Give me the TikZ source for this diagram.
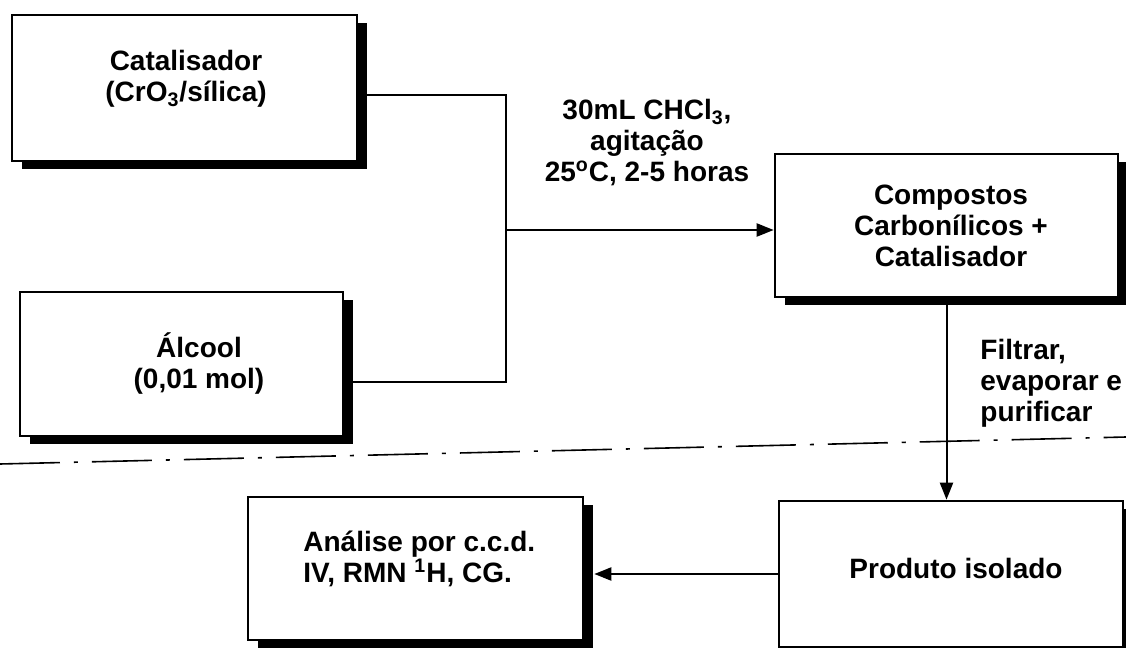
\documentclass[tikz,border=0pt]{standalone}
\usepackage{fontspec}
\setmainfont{Liberation Sans}
\usetikzlibrary{arrows.meta,shadows}
\tikzset{flowsec/.style={x=0.5pt,y=-0.5pt,font=\bfseries\fontsize{14}{15.5}\selectfont},
  flowbox/.style={draw,line width=1.3pt,fill=white,inner sep=0pt,
    drop shadow={shadow xshift=5pt,shadow yshift=-4pt,fill=black,opacity=1}},
  flowtxt/.style={align=center,inner sep=1pt},
  flowline/.style={line width=1pt},
  flowarr/.style={line width=1pt,-{Triangle[length=8.5pt,width=6.5pt]}}}

\begin{document}
\begin{tikzpicture}[flowsec]
    \useasboundingbox (0,0) rectangle (1126,648);
    \node[flowbox,minimum width=172.5pt,minimum height=73pt] (cat)  at (184.5,88)  {};
    \node[flowbox,minimum width=161.5pt,minimum height=72pt] (alc)  at (181.5,364) {};
    \node[flowbox,minimum width=171.5pt,minimum height=71.5pt] (comp) at (946.5,225.5) {};
    \node[flowbox,minimum width=172pt,minimum height=73pt] (prod) at (951,574) {};
    \node[flowbox,minimum width=167.5pt,minimum height=71.5pt] (anal) at (415.5,568.5) {};
    \node[flowtxt] (catT)  at (186,79)  {Catalisador\\(CrO\textsubscript{3}/sílica)};
    \node[flowtxt] (alcT)  at (199,363) {Álcool\\(0,01 mol)};
    \node[flowtxt] (compT) at (951,226) {Compostos\\Carbonílicos +\\Catalisador};
    \node[flowtxt] (prodT) at (956,568) {Produto isolado};
    \node[flowtxt,align=left,anchor=west] (analT) at (301,559) {Análise por c.c.d.\\IV, RMN \textsuperscript{1}H, CG.};
    \node[flowtxt] (cond) at (647,143) {30mL CHCl\textsubscript{3},\\agitação\\25\textsuperscript{o}C, 2-5 horas};
    \node[flowtxt,align=left,anchor=west] (filt) at (978,383) {Filtrar,\\evaporar e\\purificar};
    % joining the two reagents
    \coordinate (jt) at (506,95);
    \coordinate (jb) at (506,382);
    \coordinate (jm) at (506,230);
    \draw[flowline] (cat.east |- jt) -- (jt) -- (jb) -- (alc.east |- jb);
    \draw[flowarr] (jm) -- (comp.west |- jm);
    \draw[flowarr] (comp.south) -- (comp.south |- prod.north);
    \draw[flowarr] (prod.west) -- ([xshift=5pt]prod.west -| anal.east);
    \draw[line width=0.8pt,dash pattern=on 30pt off 7pt on 2pt off 7pt] (0,464) -- (1126,437);  % separator
  \end{tikzpicture}
\end{document}
